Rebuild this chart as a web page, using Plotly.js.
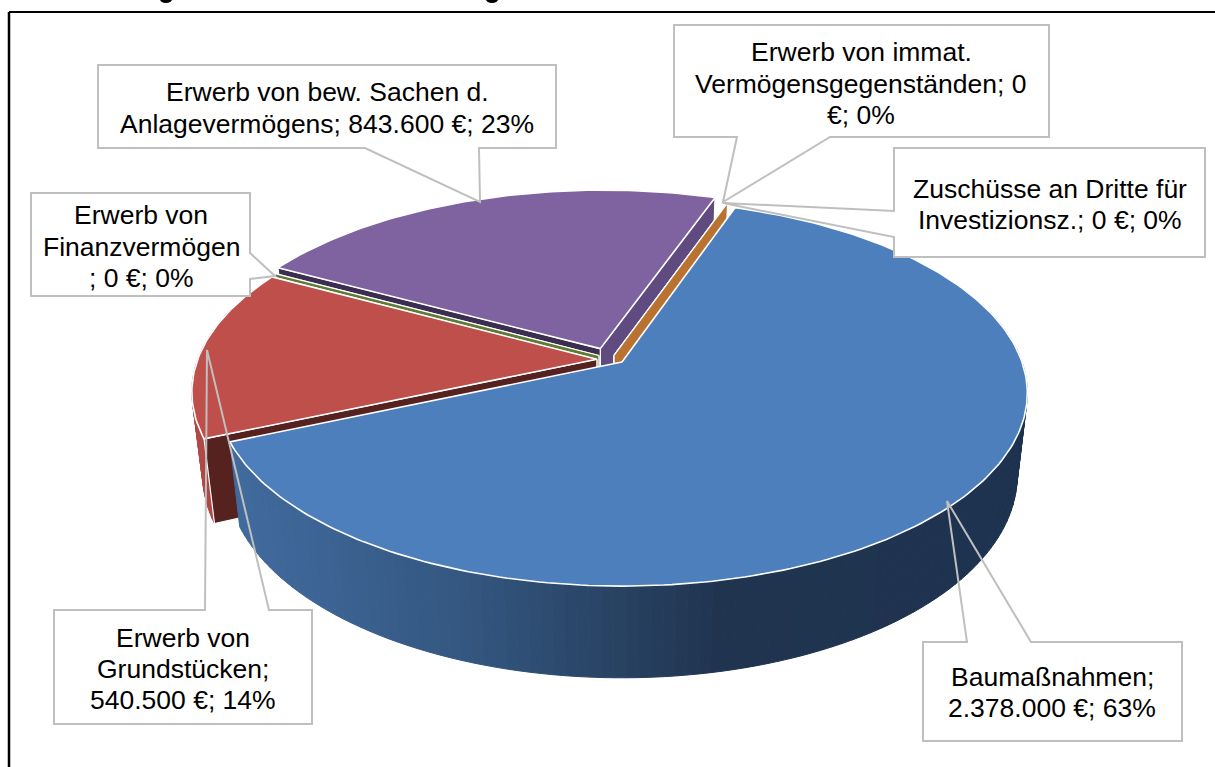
<!DOCTYPE html>
<html><head><meta charset="utf-8">
<script src="https://cdn.plot.ly/plotly-3.0.1.min.js"></script>
<style>html,body{margin:0;padding:0;background:#fff}</style></head>
<body><div id="chart" style="width:1215px;height:767px"></div>
<script>
// ---- data ----
const categories = ["Baumaßnahmen","Erwerb von Grundstücken","Erwerb von Finanzvermögen","Erwerb von bew. Sachen d. Anlagevermögens","Erwerb von immat. Vermögensgegenständen","Zuschüsse an Dritte für Investizionsz."];
const values = [2378000,540500,0,843600,0,0];
const labelTexts = [
  ["Baumaßnahmen;","2.378.000 €; 63%"],
  ["Erwerb von","Grundstücken;","540.500 €; 14%"],
  ["Erwerb von","Finanzvermögen","; 0 €; 0%"],
  ["Erwerb von bew. Sachen d.","Anlagevermögens; 843.600 €; 23%"],
  ["Erwerb von immat.","Vermögensgegenständen; 0","€; 0%"],
  ["Zuschüsse an Dritte für","Investizionsz.; 0 €; 0%"]
];
// ---- styling and layout ----
const topColors = ["#4C7FBB","#BE4F4B","#9BBB59","#7F63A0","#4BACC6","#F79646"];
const startFace = [null,"#552220","#5F7A35","#3C2E50","#2C6E80","#B9722F"];
const endFace   = [null,"#552220","#5F7A35","#5F4B7F","#2C6E80","#B9722F"];
const apexU = [0,-0.063,-0.058,-0.055,-0.02,-0.02];
const apexV = [0,0.0145,0.035,0.072,0.035,0.035];
const wallStops = [
  [[240,[65,106,157]],[470,[51,86,127]],[720,[32,52,79]],[1030,[30,51,80]]],
  [[190,[178,74,71]],[215,[168,67,63]]],
  null,null,null,null
];
const drawOrder = [3,4,5,2,1,0];
const startAngle = 19;
const CX = 622, PERSP = 0.161;
const topRing = {a:400,b:188,cy:362};
const lowRing = {a:390,b:197,cy:443};
const boxes = [
  {r:[923,642,1182,741], t:[947,501], gap:[[967,642],[1031,642]], side:"top",   cx:1052, ys:[677,708]},
  {r:[54,610,312,724],   t:[207,350], gap:[[205,610],[269,610]],  side:"top",   cx:183,  ys:[638,669,700]},
  {r:[31,193,250,296],   t:[275,276], gap:[[250,253],[250,279]],  side:"right", cx:141,  ys:[215,247,278]},
  {r:[98,65,556,148],    t:[480,202], gap:[[365,148],[479,148]],  side:"bottom",cx:327,  ys:[92,124]},
  {r:[674,25,1049,137],  t:[723,202], gap:[[737,137],[830,137]],  side:"bottom",cx:861,  ys:[52,84,115]},
  {r:[894,148,1205,257], t:[723,203], gap:[[894,211],[894,237]],  side:"left",  cx:1050, ys:[189,220]}
];
const FONT = "Liberation Sans, Arial, sans-serif";
const FONT_SIZE = 26.5;

// ---- geometry from the values ----
const total = values.reduce((a,b)=>a+b,0);
function pr(u,v,ring){const s=1/(1+PERSP*v);return [CX+ring.a*u*s, ring.cy-ring.b*v*s];}
function pt(deg,i,ring){const t=deg*Math.PI/180;return pr(apexU[i]+Math.sin(t),apexV[i]+Math.cos(t),ring);}
function poly(points,fill,lineColor,w){
  return {type:"scatter",mode:"lines",x:points.map(p=>p[0]),y:points.map(p=>p[1]),fill:"toself",fillcolor:fill,
    line:{color:lineColor,width:w},hoverinfo:"skip",showlegend:false};
}
function wallColor(stops,x){
  if(x<=stops[0][0])return stops[0][1];
  for(let k=1;k<stops.length;k++){
    if(x<=stops[k][0]){const f=(x-stops[k-1][0])/(stops[k][0]-stops[k-1][0]);
      return stops[k-1][1].map((c,j)=>Math.round(c+(stops[k][1][j]-c)*f));}
  }
  return stops[stops.length-1][1];
}
let angles=[],acc=startAngle;
values.forEach(v=>{const d=v/total*360;angles.push([acc,acc+d]);acc+=d;});
const traces=[];
const STEP=1.5;
drawOrder.forEach(i=>{
  const [a0,a1]=angles[i];
  if(wallStops[i]){
    for(let d=a0;d<a1;d+=STEP){
      const e=Math.min(d+STEP,a1),m=(d+e)/2;
      if(Math.cos(m*Math.PI/180)>0.3)continue;
      const pts=[pt(d,i,topRing),pt(e,i,topRing),pt(e,i,lowRing),pt(d,i,lowRing)];pts.push(pts[0]);
      const col=wallColor(wallStops[i],pt(m,i,topRing)[0]);
      const rgb="rgb("+col.join(",")+")";
      traces.push(poly(pts,rgb,rgb,1));
    }
  }
  const face=(ang,color)=>{
    if(!color)return;
    const pts=[pr(apexU[i],apexV[i],topRing),pt(ang,i,topRing),pt(ang,i,lowRing),pr(apexU[i],apexV[i],lowRing)];pts.push(pts[0]);
    traces.push(poly(pts,color,"#ffffff",1.2));
  };
  face(a1,endFace[i]);
  face(a0,startFace[i]);
  if(a1>a0){
    const pts=[pr(apexU[i],apexV[i],topRing)];
    for(let d=a0;d<a1;d+=1)pts.push(pt(d,i,topRing));
    pts.push(pt(a1,i,topRing));pts.push(pts[0]);
    const tr=poly(pts,topColors[i],"#ffffff",1.6);
    tr.name=categories[i];
    traces.push(tr);
  }
});

// ---- callouts ----
const shapes=[
  {type:"line",x0:9,y0:12,x1:1215,y1:12,line:{color:"#000",width:2}},
  {type:"line",x0:9,y0:12,x1:9,y1:767,line:{color:"#000",width:2.5}},
  {type:"circle",x0:160,y0:-4,x1:172,y1:3,fillcolor:"#000",line:{width:0}},
  {type:"circle",x0:486,y0:-4,x1:498,y1:3,fillcolor:"#000",line:{width:0}}
];
boxes.forEach(b=>{
  const [x0,y0,x1,y1]=b.r,[g1,g2]=b.gap,t=b.t;
  shapes.push({type:"rect",x0,y0,x1,y1,fillcolor:"#fff",line:{width:0}});
  const seq=[[x0,y0]];
  if(b.side==="top")seq.push(g1,t,g2);
  seq.push([x1,y0]);
  if(b.side==="right")seq.push(g1,t,g2);
  seq.push([x1,y1]);
  if(b.side==="bottom")seq.push(g2,t,g1);
  seq.push([x0,y1]);
  if(b.side==="left")seq.push(g2,t,g1);
  shapes.push({type:"path",path:"M"+seq.map(p=>p.join(",")).join("L")+"Z",line:{color:"#BFBFBF",width:2},fillcolor:"rgba(0,0,0,0)"});
});
const annotations=[];
boxes.forEach((b,i)=>labelTexts[i].forEach((line,k)=>annotations.push({x:b.cx,y:b.ys[k],xref:"x",yref:"y",text:line,showarrow:false,
  xanchor:"center",yanchor:"middle",align:"center",font:{family:FONT,size:FONT_SIZE,color:"#000"}})));

Plotly.newPlot("chart",traces,{
  width:1215,height:767,margin:{l:0,r:0,t:0,b:0,pad:0},
  paper_bgcolor:"#fff",plot_bgcolor:"#fff",showlegend:false,
  xaxis:{range:[0,1215],visible:false,fixedrange:true},
  yaxis:{range:[767,0],visible:false,fixedrange:true},
  shapes,annotations,hovermode:false
},{displayModeBar:false,staticPlot:true});
</script></body></html>
